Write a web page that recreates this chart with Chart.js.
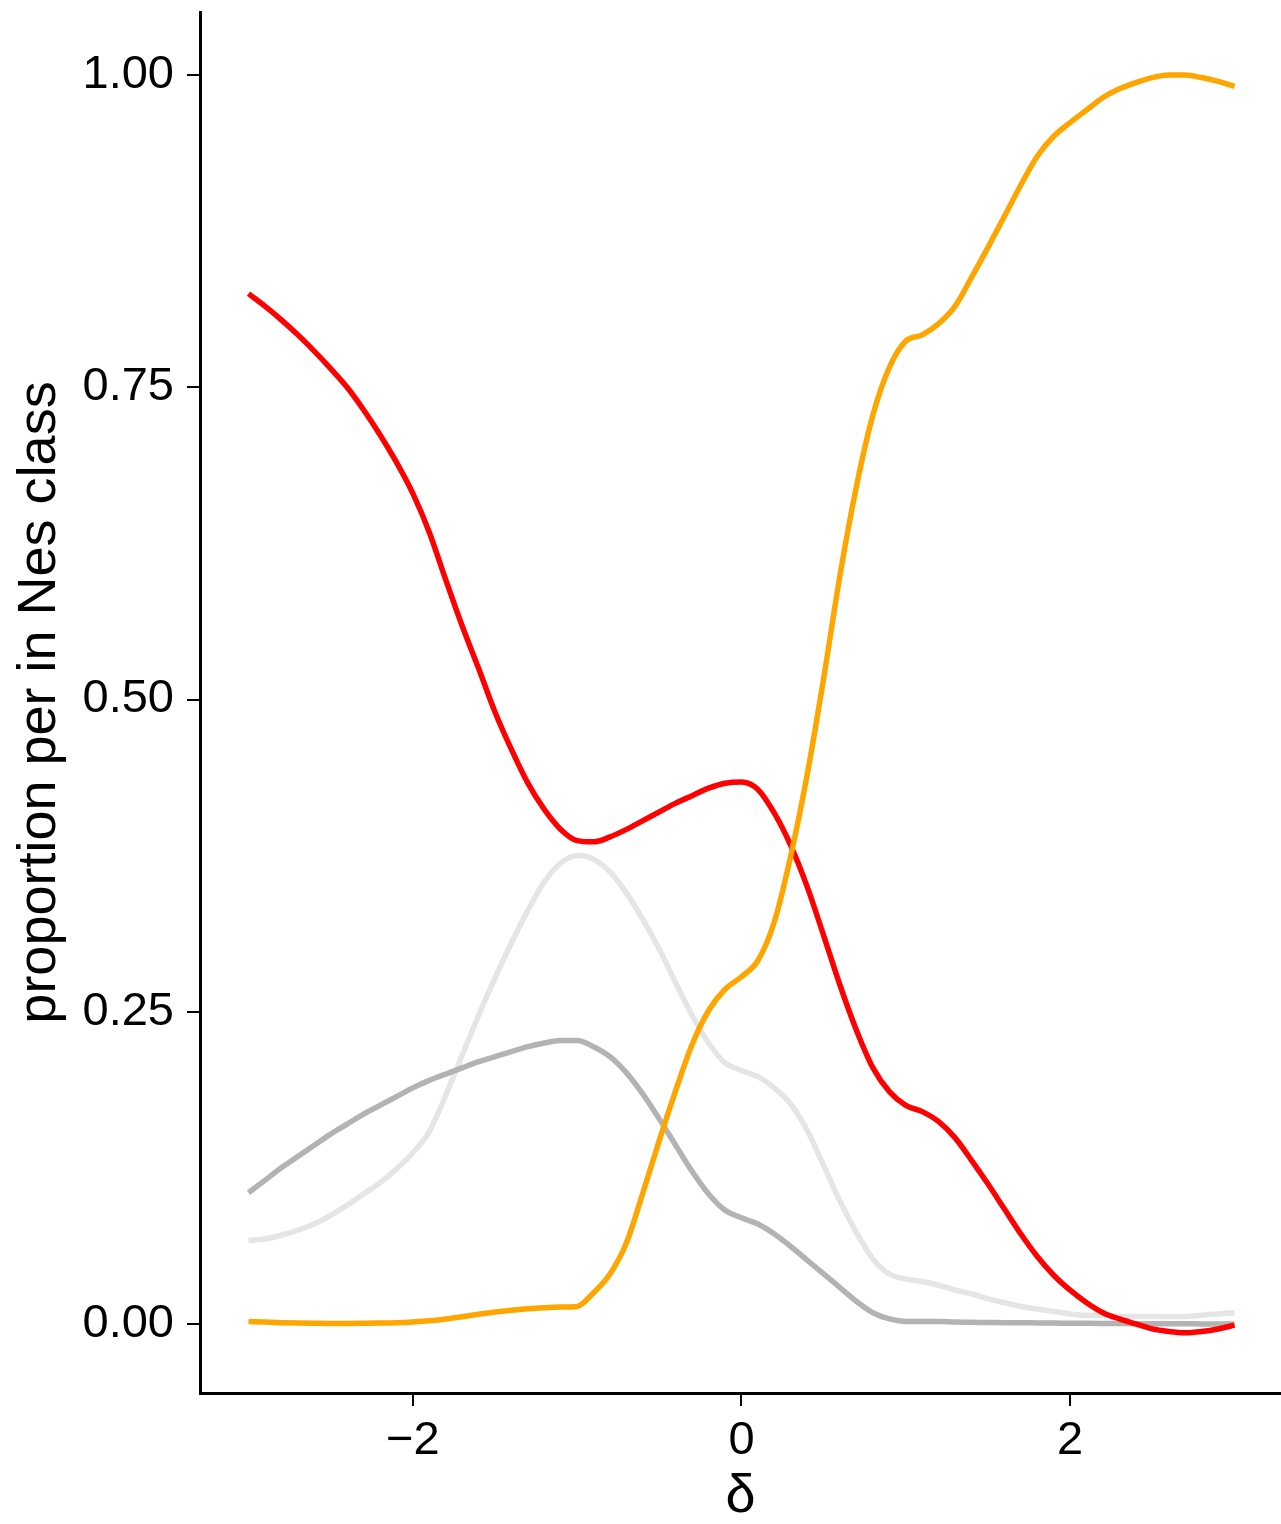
<!DOCTYPE html>
<html>
<head>
<meta charset="utf-8">
<script src="https://cdn.jsdelivr.net/npm/chart.js@4.4.1/dist/chart.umd.min.js"></script>
<style>
  body { margin: 0; background: #fff; }
  #wrap { width: 1281px; height: 1524px; }
</style>
</head>
<body>
<div id="wrap"><canvas id="myChart" width="1281" height="1524"></canvas></div>
<script>
// delta grid
const delta = [
  -3.0, -2.9, -2.8, -2.7, -2.6, -2.5, -2.4, -2.3, -2.2, -2.1,
  -2.0, -1.9, -1.8, -1.7, -1.6, -1.5, -1.4, -1.3, -1.2, -1.1,
  -1.0, -0.9, -0.8, -0.7, -0.6, -0.5, -0.4, -0.3, -0.2, -0.1,
   0.0,  0.1,  0.2,  0.3,  0.4,  0.5,  0.6,  0.7,  0.8,  0.9,
   1.0,  1.1,  1.2,  1.3,  1.4,  1.5,  1.6,  1.7,  1.8,  1.9,
   2.0,  2.1,  2.2,  2.3,  2.4,  2.5,  2.6,  2.7,  2.8,  2.9,
   3.0
];

const redVals = [
  0.825, 0.815, 0.804, 0.792, 0.779, 0.765, 0.750, 0.732, 0.712, 0.690,
  0.665, 0.634, 0.596, 0.559, 0.525, 0.490, 0.460, 0.433, 0.412, 0.396,
  0.387, 0.386, 0.390, 0.396, 0.403, 0.410, 0.417, 0.423, 0.429, 0.433,
  0.434, 0.428, 0.409, 0.383, 0.350, 0.311, 0.271, 0.235, 0.205, 0.186,
  0.175, 0.170, 0.162, 0.149, 0.131, 0.112, 0.092, 0.072, 0.054, 0.039,
  0.027, 0.017, 0.009, 0.004, 0.000, -0.004, -0.006, -0.007, -0.006, -0.004,
  -0.001
];

const lightGreyVals = [
  0.067, 0.068, 0.071, 0.075, 0.080, 0.087, 0.095, 0.104, 0.113, 0.124,
  0.137, 0.154, 0.183, 0.215, 0.247, 0.277, 0.305, 0.331, 0.354, 0.369,
  0.375, 0.372, 0.362, 0.345, 0.324, 0.300, 0.273, 0.247, 0.225, 0.209,
  0.203, 0.198, 0.189, 0.176, 0.155, 0.127, 0.098, 0.073, 0.052, 0.040,
  0.036, 0.034, 0.031, 0.027, 0.024, 0.020, 0.017, 0.014, 0.012, 0.010,
  0.008, 0.007, 0.007, 0.006, 0.006, 0.006, 0.006, 0.006, 0.007, 0.008,
  0.009
];

const darkGreyVals = [
  0.105, 0.115, 0.125, 0.134, 0.143, 0.152, 0.160, 0.168, 0.175, 0.182,
  0.189, 0.195, 0.200, 0.205, 0.210, 0.214, 0.218, 0.222, 0.225, 0.227,
  0.227, 0.222, 0.214, 0.201, 0.184, 0.164, 0.143, 0.122, 0.104, 0.091,
  0.085, 0.080, 0.072, 0.062, 0.051, 0.040, 0.029, 0.018, 0.009, 0.004,
  0.002, 0.002, 0.002, 0.0015, 0.0013, 0.0012, 0.001, 0.001, 0.0008, 0.0007,
  0.0006, 0.0005, 0.0004, 0.0003, 0.0002, 0.0002, 0.0001, 0.0001, 0.0, 0.0,
  0.0
];

const orangeVals = [
  0.0020, 0.0015, 0.0010, 0.0007, 0.0005, 0.0004, 0.0004, 0.0005, 0.0007, 0.0010,
  0.0016, 0.0025, 0.0040, 0.0058, 0.0078, 0.0096, 0.0110, 0.0121, 0.0129, 0.0135,
  0.014, 0.025, 0.040, 0.065, 0.105, 0.147, 0.187, 0.224, 0.251, 0.268,
  0.278, 0.291, 0.322, 0.375, 0.440, 0.517, 0.600, 0.671, 0.728, 0.766,
  0.787, 0.792, 0.801, 0.815, 0.838, 0.862, 0.887, 0.912, 0.935, 0.951,
  0.962, 0.972, 0.982, 0.989, 0.994, 0.998, 1.000, 1.000, 0.998, 0.995,
  0.991
];

const yTicks = [0, 0.25, 0.5, 0.75, 1];
const xTicks = [-2, 0, 2];

function pts(vals) {
  return delta.map((d, i) => ({ x: d, y: vals[i] }));
}

function line(vals, color, order) {
  return {
    data: pts(vals),
    borderColor: color,
    borderWidth: 5.5,
    pointRadius: 0,
    fill: false,
    cubicInterpolationMode: 'monotone',
    order: order
  };
}

const FONT = 'Liberation Sans, Arial, Helvetica, sans-serif';

const ctx = document.getElementById('myChart');

let ch = new Chart(ctx, {
    type: 'line',
    data: {
        datasets: [
            line(orangeVals, '#FFA500', 0),
            line(redVals, '#FF0000', 1),
            line(darkGreyVals, '#B3B3B3', 2),
            line(lightGreyVals, '#E5E5E5', 3),
        ]
    },
    options: {
        responsive: false,
        animation: false,
        layout: {
            padding: { top: 12, right: 0, left: 0, bottom: 0 }
        },
        plugins: {
            legend: { display: false },
            tooltip: { enabled: false },
            title: { display: false }
        },
        scales: {
            x: {
                type: 'linear',
                min: -3.295,
                max: 3.283,
                afterBuildTicks: (scale) => {
                    scale.ticks = xTicks.map(v => ({ value: v }));
                },
                afterFit: (scale) => {
                    scale.height = 131;
                    scale.paddingLeft = 0;
                    scale.paddingRight = 0;
                },
                grid: {
                    display: true,
                    drawOnChartArea: false,
                    drawTicks: true,
                    tickLength: 13,
                    color: '#000',
                    lineWidth: 2
                },
                border: { display: true, color: '#000', width: 3 },
                ticks: {
                    color: '#000',
                    padding: 7,
                    maxRotation: 0,
                    font: { family: FONT, size: 47 },
                    callback: (v) => (v < 0 ? '\u2212' + Math.abs(v) : String(v))
                },
                title: {
                    display: true,
                    text: '\u03b4',
                    color: '#000',
                    font: { family: FONT, size: 54, lineHeight: 1 },
                    padding: { top: 0, bottom: 0 }
                }
            },
            y: {
                type: 'linear',
                min: -0.0553,
                max: 1.0505,
                afterBuildTicks: (scale) => {
                    scale.ticks = yTicks.map(v => ({ value: v }));
                },
                afterFit: (scale) => {
                    scale.width = 200;
                    scale.paddingTop = 0;
                    scale.paddingBottom = 0;
                },
                grid: {
                    display: true,
                    drawOnChartArea: false,
                    drawTicks: true,
                    tickLength: 13,
                    color: '#000',
                    lineWidth: 2
                },
                border: { display: true, color: '#000', width: 3 },
                ticks: {
                    color: '#000',
                    padding: 13,
                    font: { family: FONT, size: 47 },
                    callback: (v) => v.toFixed(2)
                },
                title: {
                    display: true,
                    text: 'proportion per in Nes class',
                    color: '#000',
                    font: { family: FONT, size: 54, lineHeight: 1 },
                    padding: { top: 13, bottom: 0 }
                }
            }
        }
    }
});
</script>
</body>
</html>
